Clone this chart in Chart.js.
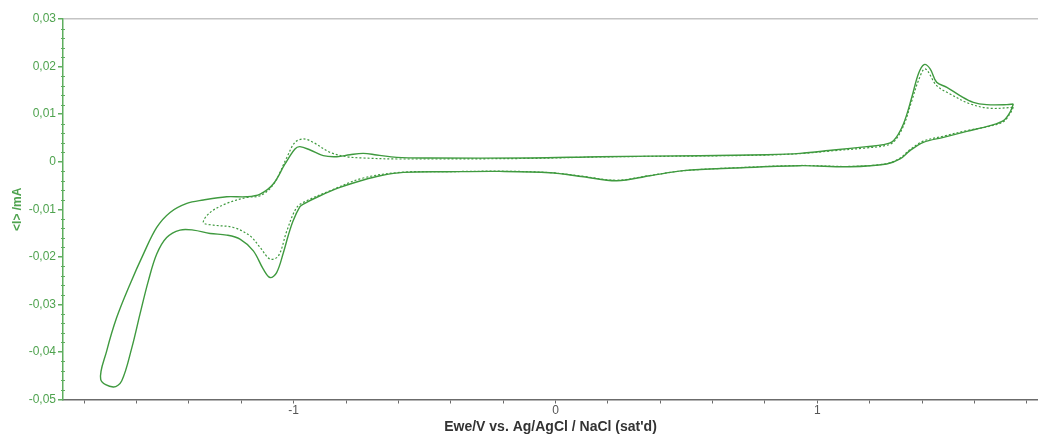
<!DOCTYPE html>
<html>
<head>
<meta charset="utf-8">
<title>Cyclic voltammogram</title>
<script src="https://cdn.jsdelivr.net/npm/chart.js@4.4.1/dist/chart.umd.min.js"></script>
<style>
  html, body { margin: 0; padding: 0; background: #ffffff; }
  #wrap { position: relative; width: 1038px; height: 436px; }
</style>
</head>
<body>
<div id="wrap"><canvas id="cv"></canvas></div>
<script>
// Axis limits and tick spacing
const xLimits = [-1.881, 1.843];
const yLimits = [-0.05, 0.03];
const xTickStep = 0.2;
const yMajorStep = 0.01;
const yMinorStep = 0.002;

// Cycle 1 (solid): potential in V, current in mA, traced as a closed loop
const cycle1E = [
  1.749, 1.736, 1.711, 1.660, 1.571, 1.482, 1.405, 1.354, 1.316, 1.265,
  1.125, 0.934, 0.680, 0.489, 0.361, 0.234, 0.107, -0.021, -0.212, -0.415,
  -0.581, -0.670, -0.734, -0.823, -0.899, -0.963, -0.976, -1.002, -1.021, -1.039,
  -1.065, -1.090, -1.116, -1.154, -1.205, -1.256, -1.319, -1.383, -1.434, -1.485,
  -1.523, -1.555, -1.587, -1.618, -1.657, -1.689, -1.737, -1.714, -1.676, -1.625,
  -1.574, -1.523, -1.472, -1.408, -1.345, -1.256, -1.179, -1.128, -1.078, -1.033,
  -0.995, -0.976, -0.937, -0.887, -0.835, -0.785, -0.734, -0.683, -0.606, -0.479,
  -0.097, 0.170, 0.552, 0.807, 0.934, 1.062, 1.189, 1.252, 1.291, 1.329,
  1.361, 1.386, 1.408, 1.431, 1.456, 1.495, 1.545, 1.596, 1.647, 1.724,
  1.749
];
const cycle1I = [
  0.01215, 0.01038, 0.00863, 0.00758, 0.00638, 0.00512, 0.00406, 0.00232, 0.00057, -0.00048,
  -0.00105, -0.00084, -0.00133, -0.00189, -0.00295, -0.00400, -0.00316, -0.00232, -0.00204, -0.00211,
  -0.00225, -0.00295, -0.00385, -0.00541, -0.00716, -0.00890, -0.00947, -0.01242, -0.01558, -0.01909,
  -0.02331, -0.02436, -0.02259, -0.01874, -0.01627, -0.01543, -0.01509, -0.01438, -0.01438, -0.01594,
  -0.01943, -0.02505, -0.03206, -0.03909, -0.04611, -0.04737, -0.04575, -0.03979, -0.03278, -0.02575,
  -0.01943, -0.01383, -0.01067, -0.00878, -0.00806, -0.00737, -0.00737, -0.00680, -0.00469, -0.00048,
  0.00267, 0.00316, 0.00246, 0.00126, 0.00105, 0.00147, 0.00175, 0.00141, 0.00090, 0.00078,
  0.00078, 0.00105, 0.00126, 0.00147, 0.00175, 0.00246, 0.00316, 0.00358, 0.00442, 0.00794,
  0.01354, 0.01846, 0.02042, 0.01952, 0.01669, 0.01564, 0.01389, 0.01248, 0.01200, 0.01200,
  0.01215
];

// Cycle 2 (dotted): reversal at -1.345 V
const cycle2E = [
  1.749, 1.736, 1.711, 1.660, 1.571, 1.482, 1.405, 1.354, 1.316, 1.265,
  1.125, 0.934, 0.680, 0.489, 0.361, 0.234, 0.107, -0.021, -0.212, -0.415,
  -0.581, -0.734, -0.861, -0.950, -0.988, -1.026, -1.058, -1.090, -1.128, -1.167,
  -1.230, -1.307, -1.345, -1.319, -1.256, -1.179, -1.128, -1.078, -1.026, -0.995,
  -0.963, -0.925, -0.861, -0.797, -0.734, -0.606, -0.097, 0.170, 0.552, 0.807,
  0.934, 1.062, 1.189, 1.252, 1.291, 1.329, 1.361, 1.386, 1.412, 1.456,
  1.507, 1.584, 1.660, 1.749
];
const cycle2I = [
  0.01143, 0.01010, 0.00842, 0.00747, 0.00653, 0.00537, 0.00432, 0.00253, 0.00074, -0.00042,
  -0.00100, -0.00080, -0.00130, -0.00190, -0.00290, -0.00390, -0.00310, -0.00230, -0.00200, -0.00210,
  -0.00220, -0.00343, -0.00610, -0.00821, -0.00962, -0.01453, -0.01979, -0.02048, -0.01804, -0.01558,
  -0.01383, -0.01333, -0.01278, -0.01067, -0.00878, -0.00752, -0.00716, -0.00484, 0.00090, 0.00406,
  0.00478, 0.00406, 0.00196, 0.00105, 0.00078, 0.00057, 0.00069, 0.00100, 0.00120, 0.00140,
  0.00170, 0.00230, 0.00290, 0.00330, 0.00410, 0.00750, 0.01280, 0.01700, 0.01952, 0.01600,
  0.01425, 0.01215, 0.01122, 0.01143
];

const toPoints = (xs, ys) => xs.map((x, i) => ({ x: x, y: ys[i] }));

const GREEN_LINE = '#3f9a3f';
const GREEN_AXIS = '#5fae5f';
const GREEN_TEXT = '#4fa34f';

// Short minor ticks straddling the current axis
const minorTicks = {
  id: 'minorTicks',
  afterDraw(chart) {
    const y = chart.scales.y;
    const ctx = chart.ctx;
    const x0 = chart.chartArea.left;
    ctx.save();
    ctx.strokeStyle = GREEN_AXIS;
    ctx.lineWidth = 1;
    const n = Math.round((yLimits[1] - yLimits[0]) / yMinorStep);
    for (let k = 0; k <= n; k++) {
      const v = yLimits[0] + k * yMinorStep;
      if (Math.abs(v / yMajorStep - Math.round(v / yMajorStep)) < 1e-6) continue;
      const py = Math.round(y.getPixelForValue(v)) + 0.5;
      ctx.beginPath();
      ctx.moveTo(x0 - 2, py);
      ctx.lineTo(x0 + 2, py);
      ctx.stroke();
    }
    ctx.restore();
  }
};

const fmtCurrent = v => {
  if (Math.abs(v) < 1e-9) return '0';
  return v.toFixed(2).replace('.', ',');
};

new Chart(document.getElementById('cv'), {
  type: 'scatter',
  data: {
    datasets: [
      {
        label: 'cycle 1',
        data: toPoints(cycle1E, cycle1I),
        showLine: true,
        borderColor: GREEN_LINE,
        borderWidth: 1.4,
        pointRadius: 0,
        tension: 0.35,
        fill: false
      },
      {
        label: 'cycle 2',
        data: toPoints(cycle2E, cycle2I),
        showLine: true,
        borderColor: GREEN_LINE,
        borderWidth: 1.2,
        borderDash: [2, 2],
        pointRadius: 0,
        tension: 0.35,
        fill: false
      }
    ]
  },
  options: {
    responsive: true,
    maintainAspectRatio: false,
    animation: false,
    layout: { padding: { top: 19, right: 0, left: 0, bottom: 0 } },
    plugins: {
      legend: { display: false },
      tooltip: { enabled: false }
    },
    scales: {
      x: {
        type: 'linear',
        min: xLimits[0],
        max: xLimits[1],
        afterFit(scale) { scale.height = 36.5; },
        border: { color: '#6b6b6b', width: 1.5 },
        grid: {
          drawOnChartArea: false,
          tickLength: 4,
          tickColor: '#6b6b6b'
        },
        ticks: {
          stepSize: xTickStep,
          includeBounds: false,
          autoSkip: false,
          maxRotation: 0,
          padding: 0,
          color: '#555555',
          font: { family: '"Liberation Sans Narrow", "Liberation Sans", Arial, sans-serif', size: 12 },
          callback: v => (Math.abs(v - Math.round(v)) < 1e-6 ? String(Math.round(v)) : '')
        },
        title: {
          display: true,
          text: "Ewe/V vs. Ag/AgCl / NaCl (sat'd)",
          color: '#333333',
          font: { family: '"Liberation Sans Narrow", "Liberation Sans", Arial, sans-serif', size: 14, weight: 'bold' },
          padding: { top: 0, bottom: 0 }
        }
      },
      y: {
        type: 'linear',
        min: yLimits[0],
        max: yLimits[1],
        afterFit(scale) { scale.width = 63; },
        border: { color: GREEN_AXIS, width: 1.5 },
        grid: {
          drawOnChartArea: true,
          color: ctx => (ctx.tick && Math.abs(ctx.tick.value - yLimits[1]) < 1e-9 ? '#c4c4c4' : 'rgba(0,0,0,0)'),
          lineWidth: 1.5,
          tickLength: 5,
          tickColor: GREEN_AXIS
        },
        ticks: {
          stepSize: yMajorStep,
          includeBounds: false,
          autoSkip: false,
          padding: 2,
          color: GREEN_TEXT,
          font: { family: '"Liberation Sans", Arial, sans-serif', size: 12 },
          callback: v => fmtCurrent(v)
        },
        title: {
          display: true,
          text: '<I> /mA',
          color: GREEN_TEXT,
          font: { family: '"Liberation Sans", Arial, sans-serif', size: 12, weight: 'bold' },
          padding: { top: 10, bottom: 0 }
        }
      }
    }
  },
  plugins: [minorTicks]
});
</script>
</body>
</html>
